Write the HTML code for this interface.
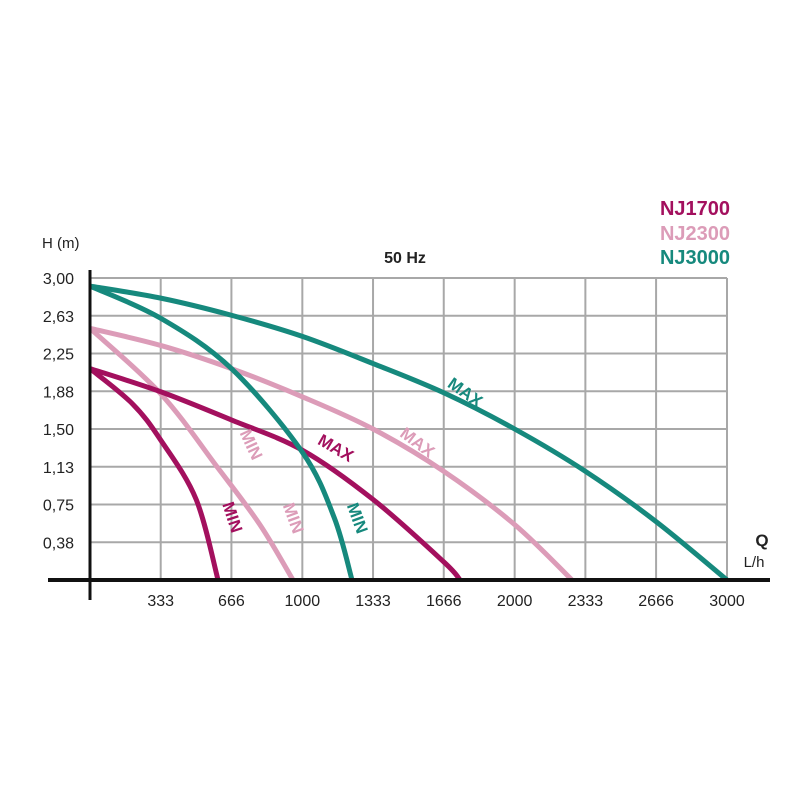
<!DOCTYPE html>
<html><head><meta charset="utf-8"><style>
html,body{margin:0;padding:0;background:#fff;width:800px;height:800px;overflow:hidden}
svg text{font-family:"Liberation Sans",Arial,sans-serif}
</style></head><body>
<svg id="chart" width="800" height="800" viewBox="0 0 800 800" xmlns="http://www.w3.org/2000/svg">
<rect width="800" height="800" fill="#fff"/>
<g id="grid"></g>
<g id="curves"></g>
<g id="axes"></g>
<text x="42" y="248" font-size="15" fill="#222">H (m)</text>
<text x="405" y="263" font-size="16" font-weight="bold" text-anchor="middle" fill="#222">50 Hz</text>
<text x="730" y="215" font-size="20" font-weight="bold" text-anchor="end" fill="#a3105e">NJ1700</text>
<text x="730" y="240" font-size="20" font-weight="bold" text-anchor="end" fill="#dc9cb8">NJ2300</text>
<text x="730" y="264" font-size="20" font-weight="bold" text-anchor="end" fill="#16897d">NJ3000</text>
<text x="762" y="546" font-size="17" font-weight="bold" text-anchor="middle" fill="#222">Q</text>
<text x="754" y="567" font-size="15" text-anchor="middle" fill="#222">L/h</text>
<g id="labels"></g>
</svg>
<script>
const xTicks = [333, 666, 1000, 1333, 1666, 2000, 2333, 2666, 3000];
const xTickLabels = ["333","666","1000","1333","1666","2000","2333","2666","3000"];
const yTicks = [0.375, 0.75, 1.125, 1.5, 1.875, 2.25, 2.625, 3.0];
const yTickLabels = ["0,38","0,75","1,13","1,50","1,88","2,25","2,63","3,00"];

const nj3000MaxQ = [0, 333, 666, 1000, 1333, 1666, 2000, 2333, 2666, 3000];
const nj3000MaxH = [2.92, 2.80, 2.63, 2.42, 2.15, 1.86, 1.50, 1.08, 0.58, 0];
const nj3000MinQ = [0, 333, 666, 1000, 1150, 1234];
const nj3000MinH = [2.92, 2.60, 2.10, 1.27, 0.62, 0];
const nj2300MaxQ = [0, 333, 666, 1000, 1333, 1666, 2000, 2270];
const nj2300MaxH = [2.50, 2.33, 2.10, 1.82, 1.50, 1.08, 0.55, 0];
const nj2300MinQ = [0, 333, 600, 800, 956];
const nj2300MinH = [2.50, 1.85, 1.12, 0.55, 0];
const nj1700MaxQ = [0, 333, 666, 1000, 1333, 1666, 1743];
const nj1700MaxH = [2.10, 1.87, 1.59, 1.29, 0.80, 0.18, 0];
const nj1700MinQ = [0, 200, 333, 500, 603];
const nj1700MinH = [2.10, 1.75, 1.39, 0.80, 0];

const X0 = 90, X1 = 727, Y0 = 580, Y1 = 278;
const xs = q => X0 + q * (X1 - X0) / 3000;
const ys = h => Y0 - h * (Y0 - Y1) / 3.0;
const NS = "http://www.w3.org/2000/svg";
function mk(tag, attrs, parent) {
  const e = document.createElementNS(NS, tag);
  for (const k in attrs) e.setAttribute(k, attrs[k]);
  parent.appendChild(e);
  return e;
}
const grid = document.getElementById('grid');
xTicks.forEach((q, i) => {
  const l = mk('line', {x1: xs(q), x2: xs(q), y1: Y1, y2: Y0, stroke: '#a8a8a8', 'stroke-width': 2}, grid);
  
  
});
yTicks.forEach((h, i) => {
  const l = mk('line', {x1: X0, x2: X1, y1: ys(h), y2: ys(h), stroke: '#a8a8a8', 'stroke-width': 2}, grid);
  
  
});
const axes = document.getElementById('axes');
const xa = mk('line', {x1: 48, x2: 770, y1: Y0, y2: Y0, stroke: '#111', 'stroke-width': 4}, axes);


const ya = mk('line', {x1: X0, x2: X0, y1: 270, y2: 600, stroke: '#111', 'stroke-width': 3}, axes);


xTicks.forEach((q, i) => {
  const t = mk('text', {x: xs(q), y: 606, 'font-size': 16, 'text-anchor': 'middle', fill: '#222'}, axes);
  t.textContent = xTickLabels[i];
  
  
});
yTicks.forEach((h, i) => {
  const t = mk('text', {x: 74, y: ys(h) + 6, 'font-size': 16, 'text-anchor': 'end', fill: '#222'}, axes);
  t.textContent = yTickLabels[i];
  
  
});
function pathFrom(Q, H) {
  const p = Q.map((q, i) => [xs(q), ys(H[i])]);
  let d = `M${p[0][0]},${p[0][1]}`;
  for (let i = 0; i < p.length - 1; i++) {
    const p0 = p[i - 1] || p[i], p1 = p[i], p2 = p[i + 1], p3 = p[i + 2] || p[i + 1];
    const c1 = [p1[0] + (p2[0] - p0[0]) / 6, p1[1] + (p2[1] - p0[1]) / 6];
    const c2 = [p2[0] - (p3[0] - p1[0]) / 6, p2[1] - (p3[1] - p1[1]) / 6];
    d += ` C${c1[0]},${c1[1]} ${c2[0]},${c2[1]} ${p2[0]},${p2[1]}`;
  }
  return d;
}
const curves = document.getElementById('curves');
const series = [
  [nj2300MaxQ, nj2300MaxH, '#dc9cb8', 'nj2300-max-curve'],
  [nj2300MinQ, nj2300MinH, '#dc9cb8', 'nj2300-min-curve'],
  [nj1700MaxQ, nj1700MaxH, '#a3105e', 'nj1700-max-curve'],
  [nj1700MinQ, nj1700MinH, '#a3105e', 'nj1700-min-curve'],
  [nj3000MaxQ, nj3000MaxH, '#16897d', 'nj3000-max-curve'],
  [nj3000MinQ, nj3000MinH, '#16897d', 'nj3000-min-curve']
];
series.forEach(s => {
  const p = mk('path', {d: pathFrom(s[0], s[1]), fill: 'none', stroke: s[2], 'stroke-width': 5}, curves);
  
  
});
const labels = document.getElementById('labels');
const lbls = [
  ['MAX', 462, 397, 35, '#16897d', 'nj3000-max-label'],
  ['MAX', 414, 447, 37, '#dc9cb8', 'nj2300-max-label'],
  ['MAX', 333, 453, 30, '#a3105e', 'nj1700-max-label'],
  ['MIN', 246, 447, 65, '#dc9cb8', 'nj2300-min-label'],
  ['MIN', 227, 519, 72, '#a3105e', 'nj1700-min-label'],
  ['MIN', 288, 520, 70, '#dc9cb8', 'nj2300-min-label-2'],
  ['MIN', 352, 520, 70, '#16897d', 'nj3000-min-label']
];
lbls.forEach(l => {
  const t = mk('text', {x: l[1], y: l[2], 'font-size': 17, 'font-weight': 'bold', 'text-anchor': 'middle', fill: l[4], transform: `rotate(${l[3]} ${l[1]} ${l[2]})`}, labels);
  t.textContent = l[0];
  
  
});
</script>
</body></html>
